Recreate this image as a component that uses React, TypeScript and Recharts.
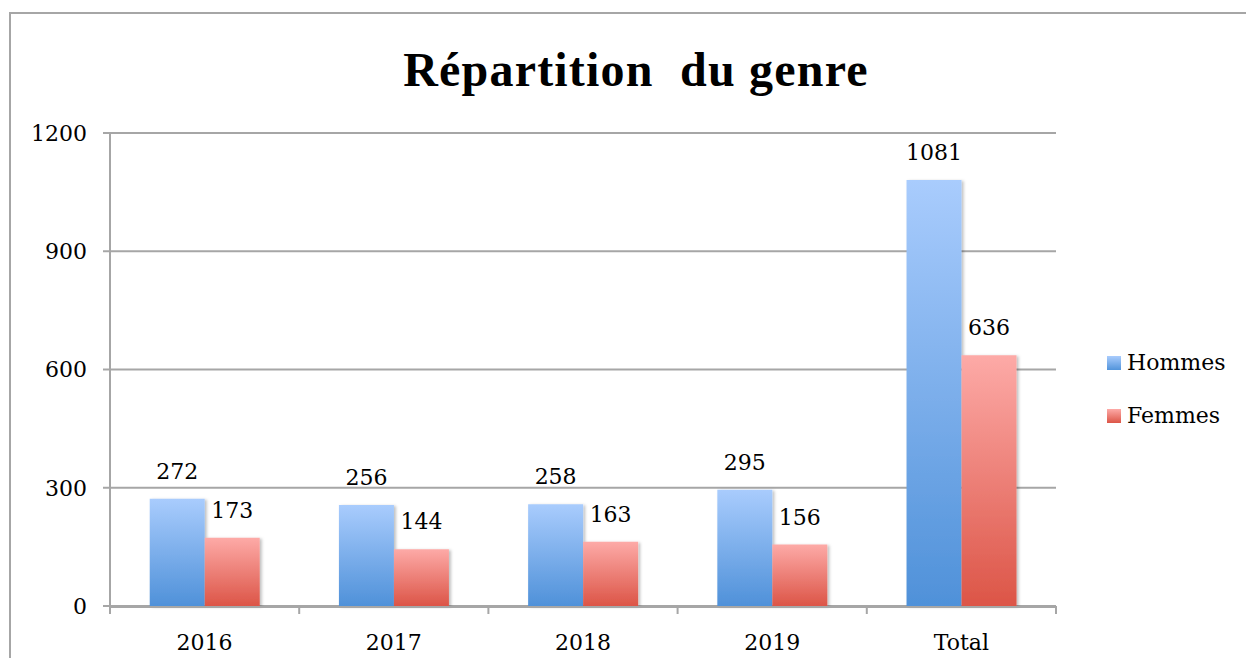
import {
  Bar,
  BarChart,
  CartesianGrid,
  LabelList,
  XAxis,
  YAxis,
} from "recharts";

// Répartition du genre — Hommes / Femmes per year + total.
const categories = ["2016", "2017", "2018", "2019", "Total"];
const hommes = [272, 256, 258, 295, 1081];
const femmes = [173, 144, 163, 156, 636];
const yTicks = [0, 300, 600, 900, 1200];
const boundaryTicks = [0, 1, 2, 3, 4, 5];

const data = categories.map((name, i) => ({
  name,
  slot: i,
  hommes: hommes[i],
  femmes: femmes[i],
}));

const SERIF = '"DejaVu Serif", "Liberation Serif", serif';
const TITLE_FONT = '"Liberation Serif", serif';
const GRID = "#a6a6a6";
const FS = 22;

function LegendBox() {
  const items = [
    { label: "Hommes", grad: "linear-gradient(#a9ccfd, #5294db)" },
    { label: "Femmes", grad: "linear-gradient(#fdaaa7, #dc5547)" },
  ];
  return (
    <div style={{ fontFamily: SERIF, fontSize: FS, color: "#000" }}>
      {items.map((it) => (
        <div
          key={it.label}
          style={{ display: "flex", alignItems: "center", height: 53 }}
        >
          <span
            style={{
              display: "inline-block",
              width: 14,
              height: 14,
              background: it.grad,
              marginRight: 6,
            }}
          />
          {it.label}
        </div>
      ))}
    </div>
  );
}

// boundary ticks only: no label
const NoLabel = () => <g />;

export default function App() {
  return (
    <div
      style={{
        position: "relative",
        width: 1254,
        height: 666,
        margin: -8,
        overflow: "hidden",
        background: "#fff",
      }}
    >
      <div
        style={{
          position: "absolute",
          left: 9,
          top: 12,
          width: 1300,
          height: 700,
          border: "2px solid #a6a6a6",
          boxSizing: "border-box",
        }}
      />
      <div
        style={{
          position: "absolute",
          left: 0,
          width: 1272,
          top: 40,
          textAlign: "center",
          fontFamily: TITLE_FONT,
          fontWeight: "bold",
          fontSize: 48,
          letterSpacing: 1.2,
          lineHeight: "60px",
          color: "#000",
          whiteSpace: "pre",
        }}
      >
        {"Répartition  du genre"}
      </div>
      <div style={{ position: "absolute", left: 0, top: 0 }}>
        <BarChart
          width={1254}
          height={666}
          data={data}
          margin={{ top: 133, right: 198, bottom: 20, left: 10 }}
          barCategoryGap="21%"
          barGap={0}
        >
          <defs>
            <linearGradient id="gH" x1="0" y1="0" x2="0" y2="1">
              <stop offset="0%" stopColor="#a9ccfd" />
              <stop offset="100%" stopColor="#4f91d9" />
            </linearGradient>
            <linearGradient id="gF" x1="0" y1="0" x2="0" y2="1">
              <stop offset="0%" stopColor="#fdaaa7" />
              <stop offset="100%" stopColor="#dc5547" />
            </linearGradient>
            <filter id="shadow" x="-10%" y="-5%" width="130%" height="110%">
              <feDropShadow
                dx="2"
                dy="1"
                stdDeviation="1.5"
                floodColor="#000"
                floodOpacity="0.25"
              />
            </filter>
          </defs>
          <CartesianGrid
            xAxisId="b"
            vertical={false}
            stroke={GRID}
            strokeWidth={2}
          />
          <XAxis
            xAxisId="b"
            dataKey="name"
            axisLine={{ stroke: GRID, strokeWidth: 2 }}
            tickLine={false}
            tickSize={8}
            tickMargin={19}
            height={39}
            tick={{ fill: "#000", fontSize: FS, fontFamily: SERIF }}
          />
          <XAxis
            xAxisId="a"
            dataKey="slot"
            type="number"
            domain={[0, 5]}
            allowDataOverflow
            ticks={boundaryTicks}
            interval={0}
            tick={NoLabel}
            axisLine={false}
            tickLine={{ stroke: GRID, strokeWidth: 2 }}
            tickSize={8}
            height={1}
          />
          <YAxis
            domain={[0, 1200]}
            ticks={yTicks}
            width={100}
            axisLine={{ stroke: GRID, strokeWidth: 2 }}
            tickLine={{ stroke: GRID, strokeWidth: 2 }}
            tickSize={7}
            tickMargin={16}
            tick={{ fill: "#000", fontSize: FS, fontFamily: SERIF }}
          />
          <Bar
            xAxisId="b"
            dataKey="hommes"
            name="Hommes"
            fill="url(#gH)"
            filter="url(#shadow)"
            isAnimationActive={false}
          >
            <LabelList
              dataKey="hommes"
              position="top"
              offset={20}
              fill="#000"
              fontSize={FS}
              fontFamily={SERIF}
            />
          </Bar>
          <Bar
            xAxisId="b"
            dataKey="femmes"
            name="Femmes"
            fill="url(#gF)"
            filter="url(#shadow)"
            isAnimationActive={false}
          >
            <LabelList
              dataKey="femmes"
              position="top"
              offset={20}
              fill="#000"
              fontSize={FS}
              fontFamily={SERIF}
            />
          </Bar>
        </BarChart>
      </div>
      <div style={{ position: "absolute", left: 1107, top: 336 }}>
        <LegendBox />
      </div>
    </div>
  );
}
